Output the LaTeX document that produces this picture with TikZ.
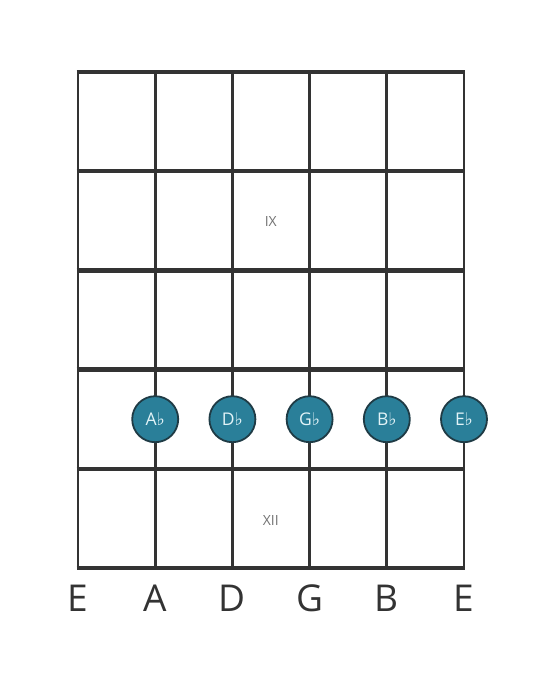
\documentclass[tikz,border=0pt]{standalone}
\usepackage{fontspec}
\setmainfont{Open Sans}
\newfontfamily\flatfont{DejaVu Sans}
\usetikzlibrary{positioning}

\definecolor{noteteal}{HTML}{2A7F99}
\definecolor{noteedge}{HTML}{1F3B45}
\definecolor{notetext}{HTML}{E2F3F7}
\definecolor{gridgray}{HTML}{333333}

\newcommand{\fl}{{\flatfont\char"266D}}

\begin{document}
\begin{tikzpicture}[
    x=1pt, y=-1pt,
    fret/.style={draw=gridgray, line width=4.5pt},
    gstring/.style={draw=gridgray, line width=2.8pt},
    note/.style={circle, draw=noteedge, line width=1.8pt, fill=noteteal, minimum size=46pt, inner sep=0pt, text=notetext, font=\fontsize{17.5}{19}\selectfont},
    strname/.style={text=gridgray, font=\fontsize{37}{40}\selectfont},
    fretnum/.style={text=black!55, font=\fontsize{14}{16}\selectfont},
]
\useasboundingbox (0,0) rectangle (559,682);

% Grid
\foreach \x in {78,155.2,232.4,309.6,386.8,464}
    \draw [gstring] (\x,72) -- (\x,568);
\foreach \y in {72,171.2,270.4,369.6,468.8,568}
    \draw [fret] (76.6,\y) -- (465.4,\y);

% Fret numbers
\node [fretnum] (ix) at (270.8,222) {IX};
\node [fretnum] (xii) at (270.8,520) {XII};

% Notes
\node [note] (ab) at (155.2,419.2) {A\fl};
\node [note] (db) at (232.4,419.2) {D\fl};
\node [note] (gb) at (309.6,419.2) {G\fl};
\node [note] (bb) at (386.8,419.2) {B\fl};
\node [note] (eb) at (464,419.2) {E\fl};

% String names
\node [strname] (e1) at (78,598) {E};
\node [strname] (a) at (155.2,598) {A};
\node [strname] (d) at (232.4,598) {D};
\node [strname] (g) at (309.6,598) {G};
\node [strname] (b) at (386.8,598) {B};
\node [strname] (e2) at (464,598) {E};

\end{tikzpicture}
\end{document}
